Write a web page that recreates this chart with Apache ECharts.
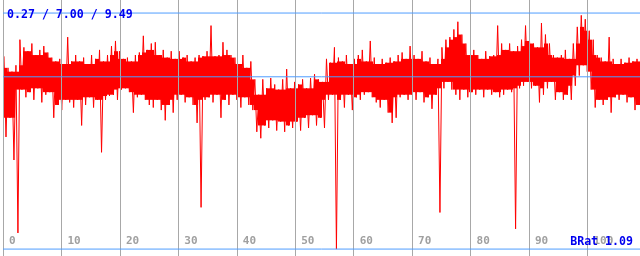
<!DOCTYPE html>
<html><head><meta charset="utf-8">
<script src="https://cdn.jsdelivr.net/npm/echarts@6/dist/echarts.min.js"></script>
<style>html,body{margin:0;padding:0;background:#fff}#c{width:640px;height:256px}</style>
</head><body><div id="c"></div>
<script>
// x tick labels
const xTicks = [0, 10, 20, 30, 40, 50, 60, 70, 80, 90, 100];
const xMax = 109;
// horizontal reference lines: min / mean / max
const refLines = [0.27, 7.00, 9.49];
const headerText = '0.27 / 7.00 / 9.49';
const footerText = 'BRat 1.09';
// per-column upper and lower extremes of the signal (columns evenly spaced across the axis)
const highs = [
 7.8, 7.35, 7.2, 7.45, 8.45, 8.15, 8.0, 8.3, 7.85, 8.05,
 8.2, 7.95, 7.75, 7.6, 7.7, 7.5, 8.55, 7.6, 7.85, 7.6,
 7.75, 7.5, 7.85, 7.7, 8.05, 7.6, 7.85, 8.2, 8.4, 8.0,
 7.7, 7.75, 7.6, 7.85, 7.95, 8.6, 8.05, 8.3, 8.35, 7.85,
 8.05, 7.75, 8.0, 7.7, 8.0, 7.75, 7.85, 7.6, 7.75, 7.85,
 7.8, 8.0, 9.0, 7.8, 7.85, 8.35, 8.05, 7.85, 7.75, 7.5,
 7.85, 7.35, 7.6, 6.9, 6.3, 6.9, 6.55, 6.95, 6.7, 6.5,
 6.9, 7.3, 6.55, 6.8, 6.7, 6.9, 6.55, 6.95, 7.1, 6.9,
 6.8, 7.7, 7.55, 8.15, 7.75, 7.6, 7.85, 7.5, 7.7, 7.85,
 8.05, 7.6, 8.4, 7.75, 7.5, 7.7, 7.55, 7.75, 7.6, 7.85,
 7.95, 7.7, 8.2, 7.85, 7.7, 8.0, 7.6, 7.75, 7.5, 7.7,
 8.15, 8.45, 8.55, 8.85, 9.15, 8.65, 8.3, 7.85, 8.05, 7.85,
 7.7, 8.0, 7.8, 7.85, 9.0, 8.3, 8.05, 8.3, 8.0, 8.2,
 8.45, 9.0, 8.4, 8.3, 8.15, 9.1, 8.65, 8.3, 7.85, 7.75,
 7.85, 8.05, 7.7, 8.3, 8.95, 9.4, 9.25, 8.8, 8.45, 7.85,
 7.75, 7.6, 8.55, 7.7, 7.5, 7.7, 7.55, 7.75, 7.6, 7.7
];
const lows = [
 4.65, 5.4, 3.75, 0.9, 6.5, 6.2, 6.4, 6.1, 6.55, 6.0,
 6.3, 6.4, 5.4, 5.9, 5.7, 6.1, 6.0, 5.8, 6.1, 5.1,
 5.9, 6.2, 5.8, 6.1, 4.05, 6.1, 6.25, 6.3, 6.1, 6.5,
 6.55, 6.4, 5.6, 6.2, 6.3, 6.1, 5.9, 5.8, 6.1, 5.7,
 5.3, 5.9, 5.6, 6.1, 6.3, 6.0, 6.2, 5.9, 5.2, 1.9,
 6.1, 6.2, 6.0, 6.3, 5.4, 6.1, 5.9, 6.3, 6.1, 5.8,
 6.2, 5.9, 5.7, 4.85, 4.6, 5.1, 5.0, 5.3, 4.9, 5.25,
 4.85, 5.1, 5.0, 5.25, 4.9, 5.4, 5.0, 5.5, 5.1, 5.4,
 5.0, 6.1, 6.3, 0.27, 6.1, 5.8, 6.3, 5.7, 6.2, 6.1,
 6.3, 6.4, 6.2, 6.0, 5.8, 6.1, 5.6, 5.2, 5.4, 6.2,
 6.3, 6.1, 6.3, 6.1, 6.4, 6.0, 6.2, 5.75, 6.3, 1.7,
 6.55, 6.8, 6.5, 6.3, 6.1, 6.5, 6.2, 6.4, 6.3, 6.5,
 6.2, 6.5, 6.3, 6.4, 6.2, 6.3, 6.5, 6.4, 1.06, 6.55,
 6.65, 6.8, 6.55, 6.65, 6.0, 6.3, 6.55, 6.8, 6.1, 6.4,
 6.1, 6.3, 6.1, 6.65, 7.05, 7.45, 7.2, 6.5, 5.8, 6.1,
 5.9, 6.1, 5.6, 6.2, 6.1, 6.3, 6.0, 6.2, 5.7, 5.9
];

const step = xMax / highs.length;
// solid part of each column: the range it shares with its neighbours
const columns = highs.map((h, i) => {
  const hn = [highs[i - 1] ?? h, h, highs[i + 1] ?? h];
  const ln = [lows[i - 1] ?? lows[i], lows[i], lows[i + 1] ?? lows[i]];
  return [i * step, Math.max(...ln), Math.min(...hn)];
});
// the raw extremes, traced high -> low -> high as a thin line
const trace = [];
highs.forEach((h, i) => {
  trace.push([i * step + step * 0.25, h]);
  trace.push([i * step + step * 0.75, lows[i]]);
});

const mono = 'DejaVu Sans Mono';
const RED = '#ff0000';
const BLUE_LINE = '#4f9dff';
const chart = echarts.init(document.getElementById('c'), null, {renderer: 'canvas'});
const refSeries = refLines.map(v => ({
  type: 'line', z: 8, silent: true, showSymbol: false, symbol: 'none',
  data: [[0, v], [xMax, v]],
  itemStyle: {color: BLUE_LINE}, lineStyle: {color: BLUE_LINE, width: 1, opacity: 1}
}));
chart.setOption({
  animation: false,
  backgroundColor: '#ffffff',
  grid: {left: 1, right: 0, top: 0, bottom: 0},
  xAxis: {
    type: 'value', min: 0, max: xMax, interval: 10, z: 3,
    axisLine: {show: false}, axisTick: {show: false},
    splitLine: {show: true, lineStyle: {color: '#a8a8a8', width: 1}},
    axisLabel: {
      inside: true, margin: 9, align: 'left', padding: [0, 0, 0, 6],
      color: '#a0a0a0', fontFamily: mono, fontWeight: 'bold', fontSize: 11, lineHeight: 12,
      showMaxLabel: false,
      formatter: v => xTicks.includes(v) ? String(v) : ''
    }
  },
  yAxis: {type: 'value', min: 0, max: 10, show: false},
  title: [
    {text: headerText, left: 7, top: 8, padding: 0, z: 10,
     textStyle: {color: '#0000f0', fontFamily: mono, fontWeight: 'bold', fontSize: 11.6, lineHeight: 13}},
    {text: footerText, right: 7, top: 235, padding: 0, z: 10,
     textStyle: {color: '#0000f0', fontFamily: mono, fontWeight: 'bold', fontSize: 11.6, lineHeight: 13}}
  ],
  series: [
    {
      type: 'custom', z: 2, silent: true,
      itemStyle: {color: RED},
      encode: {x: 0, y: [1, 2]},
      data: columns,
      renderItem: (params, api) => {
        const x0 = api.coord([api.value(0), 0])[0];
        const x1 = api.coord([api.value(0) + step, 0])[0];
        const yHi = api.coord([0, api.value(2)])[1];
        const yLo = api.coord([0, api.value(1)])[1];
        const l = Math.round(x0), r = Math.round(x1);
        return {type: 'rect', shape: {x: l, y: yHi, width: r - l, height: Math.max(0, yLo - yHi)}, style: {fill: RED}};
      }
    },
    {type: 'line', data: trace, z: 2, silent: true, showSymbol: false, symbol: 'none',
     itemStyle: {color: RED}, lineStyle: {color: RED, width: 1}}
  ].concat(refSeries)
});
</script></body></html>
